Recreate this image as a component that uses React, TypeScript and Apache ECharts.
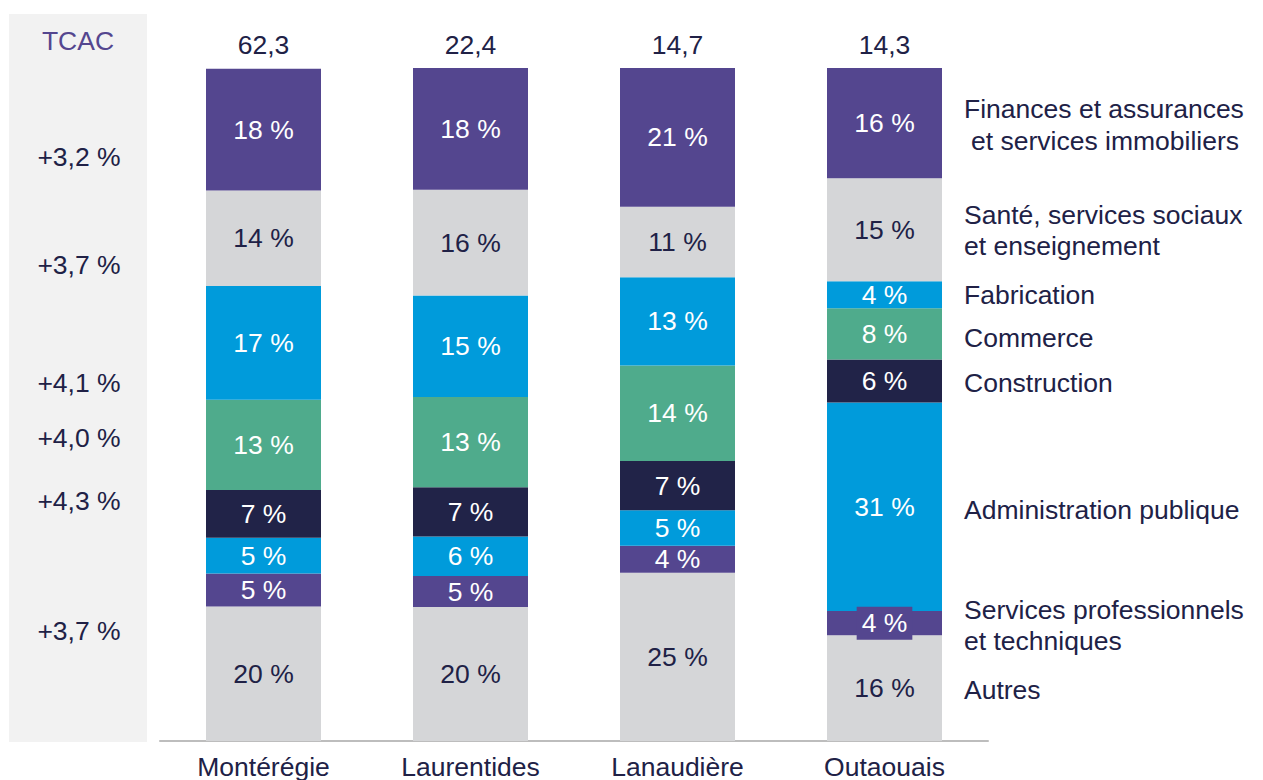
import React, { useEffect, useRef } from "react";
import * as echarts from "echarts";

const regions = ["Montérégie", "Laurentides", "Lanaudière", "Outaouais"];
const totals = ["62,3", "22,4", "14,7", "14,3"];

const autres = [20.0, 19.9, 25.0, 15.7];
const servicesPro = [4.9, 4.6, 4.0, 3.6];
const adminPublique = [5.3, 5.9, 5.3, 31.0];
const construction = [7.1, 7.3, 7.3, 6.4];
const commerce = [13.4, 13.4, 14.2, 7.6];
const fabrication = [16.9, 15.1, 13.1, 4.0];
const sante = [14.2, 15.7, 10.5, 15.3];
const finances = [18.1, 18.1, 20.6, 16.4];

const tcacTitle = "TCAC";
const tcacLabels = ["+3,2 %", "+3,7 %", "+4,1 %", "+4,0 %", "+4,3 %", "+3,7 %"];

const sectorNames = [
  "Autres",
  "Services professionnels et techniques",
  "Administration publique",
  "Construction",
  "Commerce",
  "Fabrication",
  "Santé, services sociaux et enseignement",
  "Finances et assurances et services immobiliers",
];

const FONT = "'Liberation Sans', Arial, Helvetica, sans-serif";
const FS = 26.5;
const DARK = "#202146";
const PURPLE = "#54468f";
const GRAY = "#d5d6d8";
const BLUE = "#009bdb";
const GREEN = "#4fab8c";
const NAVY = "#212348";

export default function App() {
  const ref = useRef<HTMLDivElement>(null);

  useEffect(() => {
    if (!ref.current) return;
    const chart = echarts.init(ref.current, null, { renderer: "svg" });

    const seriesDefs = [
      { name: sectorNames[0], data: autres, color: GRAY, text: DARK },
      { name: sectorNames[1], data: servicesPro, color: PURPLE, text: "#ffffff" },
      { name: sectorNames[2], data: adminPublique, color: BLUE, text: "#ffffff" },
      { name: sectorNames[3], data: construction, color: NAVY, text: "#ffffff" },
      { name: sectorNames[4], data: commerce, color: GREEN, text: "#ffffff" },
      { name: sectorNames[5], data: fabrication, color: BLUE, text: "#ffffff" },
      { name: sectorNames[6], data: sante, color: GRAY, text: DARK },
      { name: sectorNames[7], data: finances, color: PURPLE, text: "#ffffff" },
    ];

    const series = seriesDefs.map((s, si) => ({
      type: "bar",
      name: s.name,
      stack: "total",
      barWidth: 115,
      itemStyle: { color: s.color },
      label: {
        show: true,
        position: "inside",
        color: s.text,
        fontSize: FS,
        fontFamily: FONT,
        formatter: (p: any) => Math.round(p.value) + " %",
      },
      data: s.data.map((v, i) =>
        si === 1 && i === 3
          ? {
              value: v,
              label: { backgroundColor: s.color, padding: [3, 5, 3, 5] },
            }
          : v
      ),
    }));

    const legendLines: { text: string; x: number; y: number }[] = [
      { text: "Finances et assurances", x: 964, y: 109 },
      { text: "et services immobiliers", x: 971, y: 141 },
      { text: "Santé, services sociaux", x: 964, y: 215 },
      { text: "et enseignement", x: 964, y: 246 },
      { text: "Fabrication", x: 964, y: 295 },
      { text: "Commerce", x: 964, y: 338 },
      { text: "Construction", x: 964, y: 383 },
      { text: "Administration publique", x: 964, y: 510 },
      { text: "Services professionnels", x: 964, y: 610 },
      { text: "et techniques", x: 964, y: 641 },
      { text: "Autres", x: 964, y: 690 },
    ];
    const tcacY = [157, 265, 383, 438, 501, 631];

    const graphic: any[] = [
      {
        type: "rect",
        z: -10,
        shape: { x: 9, y: 14, width: 138, height: 728 },
        style: { fill: "#f2f2f2" },
      },
      {
        type: "text",
        x: 78,
        y: 41,
        style: {
          text: tcacTitle,
          fill: PURPLE,
          font: `${FS}px ${FONT}`,
          textAlign: "center",
          textVerticalAlign: "middle",
        },
      },
      ...tcacLabels.map((t, i) => ({
        type: "text",
        x: 79,
        y: tcacY[i],
        style: {
          text: t,
          fill: DARK,
          font: `${FS}px ${FONT}`,
          textAlign: "center",
          textVerticalAlign: "middle",
        },
      })),
      ...legendLines.map((l) => ({
        type: "text",
        x: l.x,
        y: l.y,
        style: {
          text: l.text,
          fill: DARK,
          font: `${FS}px ${FONT}`,
          textAlign: "left",
          textVerticalAlign: "middle",
        },
      })),
    ];

    chart.setOption({
      animation: false,
      grid: { left: 160, right: 275, top: 68, bottom: 38 },
      xAxis: [
        {
          type: "category",
          data: regions,
          axisLine: { lineStyle: { color: "#bdbdbd", width: 2 } },
          axisTick: { show: false },
          axisLabel: { color: DARK, fontSize: FS, fontFamily: FONT, margin: 12 },
        },
        {
          type: "category",
          position: "top",
          data: totals,
          axisLine: { show: false },
          axisTick: { show: false },
          axisLabel: { color: DARK, fontSize: FS, fontFamily: FONT, margin: 10 },
        },
      ],
      yAxis: {
        type: "value",
        min: 0,
        max: 100,
        show: false,
        splitLine: { show: false },
      },
      graphic,
      series,
    });

    return () => chart.dispose();
  }, []);

  return (
    <div
      ref={ref}
      style={{ position: "absolute", left: 0, top: 0, width: 1263, height: 780 }}
    />
  );
}
